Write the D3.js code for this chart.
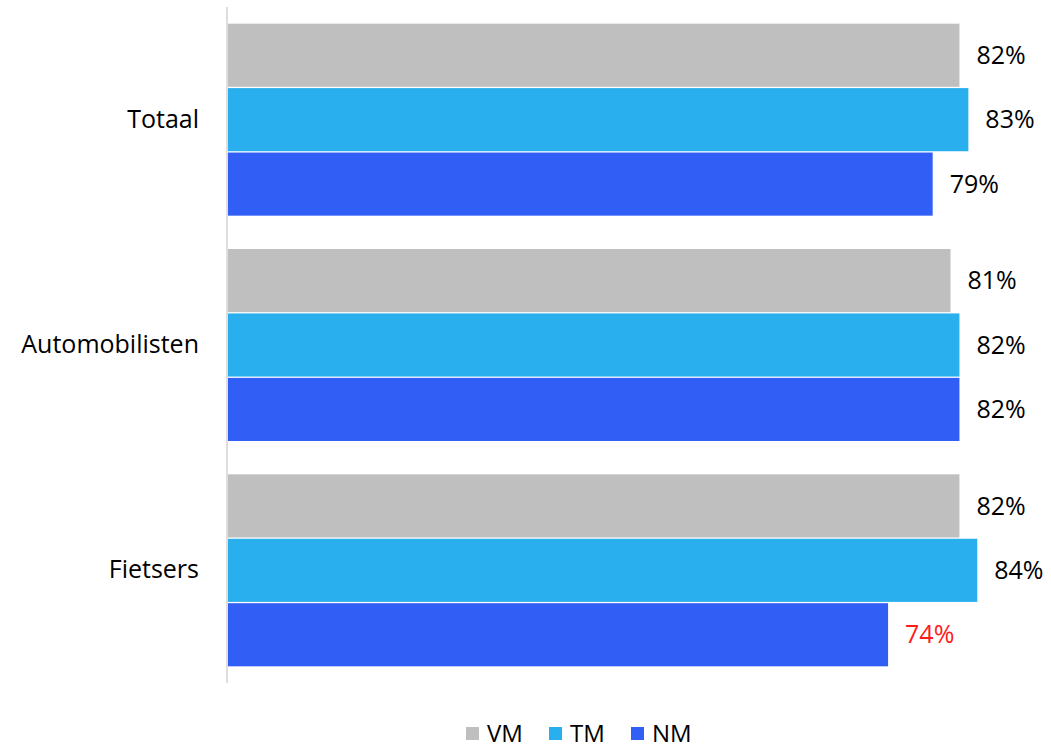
<!DOCTYPE html>
<html>
<head>
<meta charset="utf-8">
<script src="https://cdn.jsdelivr.net/npm/d3@7"></script>
<style>
  html, body { margin: 0; padding: 0; background: #fff; }
  svg { display: block; font-family: "Open Sans", "Noto Sans", sans-serif; }
</style>
</head>
<body>
<svg id="chart" width="1051" height="748"></svg>
<script>
// Share per group and measurement moment (percent)
const categories = ["Totaal", "Automobilisten", "Fietsers"];
const seriesNames = ["VM", "TM", "NM"];
const vmValues = [82, 81, 82];
const tmValues = [83, 82, 84];
const nmValues = [79, 82, 74];
const seriesColors = ["#bfbfbf", "#29aeee", "#315ef5"];
// labels flagged in red
const highlight = [[false, false, false], [false, false, false], [false, false, true]];

const seriesValues = [vmValues, tmValues, nmValues];
const rows = categories.map((c, i) => ({
  cat: c,
  vals: seriesNames.map((s, j) => ({ key: s, value: seriesValues[j][i], red: highlight[i][j] }))
}));

const svg = d3.select("#chart");
const axisX = 228;
const plotTop = 7, plotBottom = 683;

const x = d3.scaleLinear().domain([0, 100]).range([axisX, axisX + 892]);
const y = d3.scaleBand().domain(categories).range([plotTop, plotBottom]).paddingInner(0.148).paddingOuter(0.074);
const ySub = d3.scaleBand().domain(seriesNames).range([0, y.bandwidth()]).paddingInner(0.02);
const color = d3.scaleOrdinal().domain(seriesNames).range(seriesColors);

const groups = svg.selectAll("g.group").data(rows).join("g")
  .attr("class", "group")
  .attr("transform", d => `translate(0,${y(d.cat)})`);

groups.selectAll("rect").data(d => d.vals).join("rect")
  .attr("x", x(0))
  .attr("y", d => ySub(d.key))
  .attr("width", d => x(d.value) - x(0))
  .attr("height", ySub.bandwidth())
  .attr("fill", d => color(d.key));

groups.selectAll("text.val").data(d => d.vals).join("text")
  .attr("class", "val")
  .attr("x", d => x(d.value) + 17)
  .attr("y", d => ySub(d.key) + ySub.bandwidth() / 2)
  .attr("dy", "0.35em")
  .attr("font-size", 25)
  .attr("fill", d => d.red ? "#ff1a1a" : "#000")
  .text(d => d.value + "%");

// category axis
const yAxis = d3.axisLeft(y).tickSize(0).tickPadding(28);
const ax = svg.append("g").attr("transform", `translate(${axisX - 1},0)`).call(yAxis);
ax.select(".domain").attr("stroke", "#e2dcdc").attr("stroke-width", 2)
  .attr("d", `M0,${plotTop}V${plotBottom}`);
ax.selectAll(".tick text").attr("font-size", 25).attr("fill", "#000")
  .attr("font-family", "\"Open Sans\", \"Noto Sans\", sans-serif");

// legend
const legendX = [466, 549, 631];
const legend = svg.append("g").selectAll("g").data(seriesNames).join("g")
  .attr("transform", (d, i) => `translate(${legendX[i]},727)`);
legend.append("rect").attr("width", 13).attr("height", 13).attr("fill", d => color(d));
legend.append("text").attr("x", 21).attr("y", 15)
  .attr("font-size", 24).attr("fill", "#000").text(d => d);
</script>
</body>
</html>
